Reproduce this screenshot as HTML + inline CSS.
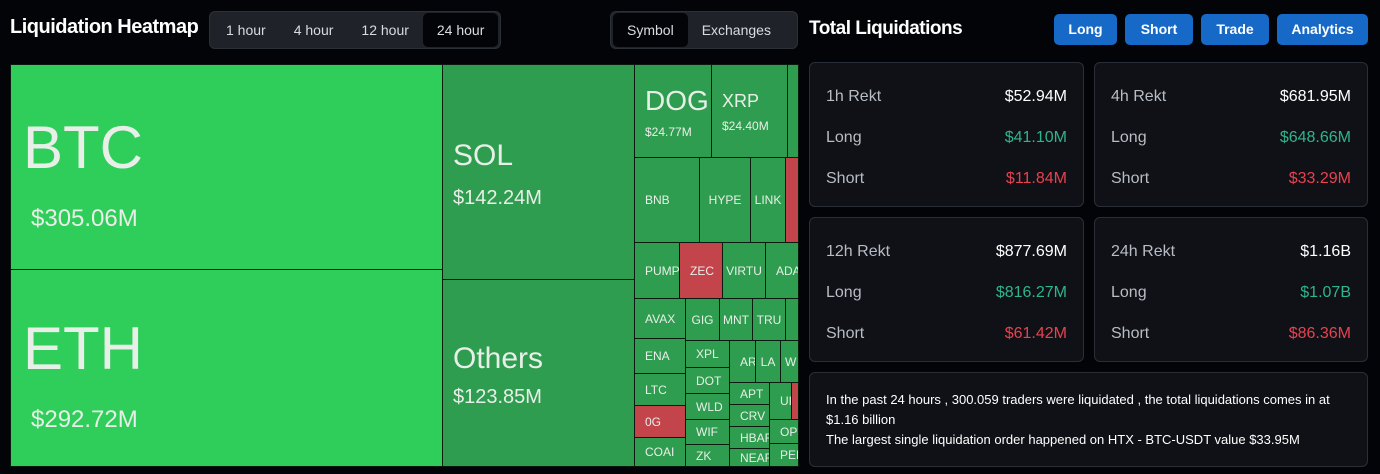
<!DOCTYPE html>
<html><head><style>
*{box-sizing:border-box;margin:0;padding:0}
body{width:1380px;height:474px;background:#030407;font-family:"Liberation Sans",sans-serif;position:relative;overflow:hidden;color:#fff}
.a{position:absolute}
.t{border:1px solid #0b1a0f;overflow:hidden;white-space:nowrap;color:#e8efe8}
.g1{background:#2fcd59}.g2{background:#2f9d4f}.r{background:#c4444b}
.s{font-size:12px;display:flex;align-items:center;padding-left:10px}
.sc{justify-content:center;padding-left:0}
.seg{background:#1f2329;border:1px solid #2c3138;border-radius:6px;display:flex;align-items:center;font-size:14px;color:#d8dce2}
.seg span{padding:0 14px;height:34px;line-height:34px;border-radius:5px}
.seg .on{background:#030407}
.btn{background:#1769c8;border-radius:5px;font-size:14px;font-weight:bold;color:#fff;text-align:center;line-height:31px;height:31px;top:14px}
.card{background:#0f1117;border:1px solid #2a2e36;border-radius:6px;font-size:16px;color:#b8bcc4}
.row{position:absolute;left:16px;right:16px;display:flex;justify-content:space-between}
.w{color:#fff}.gr{color:#2fb58a}.rd{color:#e8414f}
</style></head><body>
<div class="a" style="left:10px;top:16px;font-size:20px;font-weight:bold;letter-spacing:-0.5px">Liquidation Heatmap</div>
<div class="a seg" style="left:209px;top:11px;height:38px;padding:0 2px"><span>1 hour</span><span>4 hour</span><span>12 hour</span><span class="on">24 hour</span></div>
<div class="a seg" style="left:610px;top:11px;height:38px;padding:0 2px;width:188px"><span class="on">Symbol</span><span>Exchanges</span></div>

<div class="a t g1" style="left:10px;top:64px;width:433px;height:206px"><div class="a" style="left:12px;top:48px;font-size:60px">BTC</div><div class="a" style="left:20px;top:140px;font-size:24px">$305.06M</div></div>
<div class="a t g1" style="left:10px;top:269px;width:433px;height:198px"><div class="a" style="left:12px;top:44px;font-size:60px">ETH</div><div class="a" style="left:20px;top:136px;font-size:24px">$292.72M</div></div>
<div class="a t g2" style="left:442px;top:64px;width:193px;height:216px"><div class="a" style="left:10px;top:74px;font-size:30px">SOL</div><div class="a" style="left:10px;top:122px;font-size:20px">$142.24M</div></div>
<div class="a t g2" style="left:442px;top:279px;width:193px;height:188px"><div class="a" style="left:10px;top:62px;font-size:30px">Others</div><div class="a" style="left:10px;top:106px;font-size:20px">$123.85M</div></div>

<div class="a t g2" style="left:634px;top:64px;width:78px;height:94px"><div class="a" style="left:10px;top:20px;font-size:28px">DOGE</div><div class="a" style="left:10px;top:60px;font-size:12px">$24.77M</div></div>
<div class="a t g2" style="left:711px;top:64px;width:77px;height:94px"><div class="a" style="left:10px;top:26px;font-size:18px">XRP</div><div class="a" style="left:10px;top:54px;font-size:12px">$24.40M</div></div>
<div class="a t g2" style="left:787px;top:64px;width:12px;height:94px"></div>

<div class="a t g2 s" style="left:634px;top:157px;width:66px;height:86px">BNB</div>
<div class="a t g2 s sc" style="left:699px;top:157px;width:52px;height:86px">HYPE</div>
<div class="a t g2 s sc" style="left:750px;top:157px;width:36px;height:86px">LINK</div>
<div class="a t r" style="left:785px;top:157px;width:14px;height:86px"></div>

<div class="a t g2 s" style="left:634px;top:242px;width:46px;height:57px">PUMP</div>
<div class="a t r s" style="left:679px;top:242px;width:44px;height:57px">ZEC</div>
<div class="a t g2 s sc" style="left:722px;top:242px;width:44px;height:57px">VIRTU</div>
<div class="a t g2 s" style="left:765px;top:242px;width:34px;height:57px">ADA</div>

<div class="a t g2 s" style="left:634px;top:298px;width:52px;height:41px">AVAX</div>
<div class="a t g2 s sc" style="left:685px;top:298px;width:35px;height:43px">GIG</div>
<div class="a t g2 s sc" style="left:719px;top:298px;width:34px;height:43px">MNT</div>
<div class="a t g2 s sc" style="left:752px;top:298px;width:34px;height:43px">TRU</div>
<div class="a t g2" style="left:785px;top:298px;width:14px;height:43px"></div>

<div class="a t g2 s" style="left:634px;top:338px;width:52px;height:36px">ENA</div>
<div class="a t g2 s" style="left:634px;top:373px;width:52px;height:33px">LTC</div>
<div class="a t r s" style="left:634px;top:405px;width:52px;height:33px">0G</div>
<div class="a t g2 s" style="left:634px;top:437px;width:52px;height:30px">COAI</div>

<div class="a t g2 s" style="left:685px;top:340px;width:45px;height:28px">XPL</div>
<div class="a t g2 s" style="left:685px;top:367px;width:45px;height:27px">DOT</div>
<div class="a t g2 s" style="left:685px;top:393px;width:45px;height:27px">WLD</div>
<div class="a t g2 s" style="left:685px;top:419px;width:45px;height:26px">WIF</div>
<div class="a t g2 s" style="left:685px;top:444px;width:45px;height:23px">ZK</div>

<div class="a t g2 s" style="left:729px;top:340px;width:27px;height:43px">AR</div>
<div class="a t g2 s sc" style="left:755px;top:340px;width:26px;height:43px">LA</div>
<div class="a t g2 s" style="left:780px;top:340px;width:19px;height:43px;padding-left:4px">W</div>
<div class="a t g2 s" style="left:729px;top:382px;width:41px;height:23px">APT</div>
<div class="a t g2 s" style="left:729px;top:404px;width:41px;height:23px">CRV</div>
<div class="a t g2 s" style="left:729px;top:426px;width:41px;height:23px">HBAR</div>
<div class="a t g2 s" style="left:729px;top:448px;width:41px;height:19px">NEAR</div>
<div class="a t g2 s" style="left:769px;top:382px;width:23px;height:38px">UI</div>
<div class="a t r" style="left:791px;top:382px;width:8px;height:38px"></div>
<div class="a t g2 s" style="left:769px;top:419px;width:30px;height:25px">OP</div>
<div class="a t g2 s" style="left:769px;top:443px;width:30px;height:24px">PEPE</div>

<div class="a" style="left:809px;top:18px;font-size:19px;font-weight:bold;letter-spacing:-0.5px">Total Liquidations</div>
<div class="a btn" style="left:1054px;width:63px">Long</div>
<div class="a btn" style="left:1125px;width:68px">Short</div>
<div class="a btn" style="left:1201px;width:68px">Trade</div>
<div class="a btn" style="left:1277px;width:91px">Analytics</div>

<div class="a card" style="left:809px;top:62px;width:275px;height:145px"><div class="row" style="top:25px"><span>1h Rekt</span><span class="w">$52.94M</span></div><div class="row" style="top:66px"><span>Long</span><span class="gr">$41.10M</span></div><div class="row" style="top:107px"><span>Short</span><span class="rd">$11.84M</span></div></div>
<div class="a card" style="left:1094px;top:62px;width:274px;height:145px"><div class="row" style="top:25px"><span>4h Rekt</span><span class="w">$681.95M</span></div><div class="row" style="top:66px"><span>Long</span><span class="gr">$648.66M</span></div><div class="row" style="top:107px"><span>Short</span><span class="rd">$33.29M</span></div></div>
<div class="a card" style="left:809px;top:217px;width:275px;height:145px"><div class="row" style="top:25px"><span>12h Rekt</span><span class="w">$877.69M</span></div><div class="row" style="top:66px"><span>Long</span><span class="gr">$816.27M</span></div><div class="row" style="top:107px"><span>Short</span><span class="rd">$61.42M</span></div></div>
<div class="a card" style="left:1094px;top:217px;width:274px;height:145px"><div class="row" style="top:25px"><span>24h Rekt</span><span class="w">$1.16B</span></div><div class="row" style="top:66px"><span>Long</span><span class="gr">$1.07B</span></div><div class="row" style="top:107px"><span>Short</span><span class="rd">$86.36M</span></div></div>
<div class="a card" style="left:809px;top:372px;width:559px;height:95px;color:#fff;font-size:13px;line-height:20px;padding:17px 16px">In the past 24 hours , 300.059 traders were liquidated , the total liquidations comes in at $1.16 billion<br>The largest single liquidation order happened on HTX - BTC-USDT value $33.95M</div>
</body></html>
